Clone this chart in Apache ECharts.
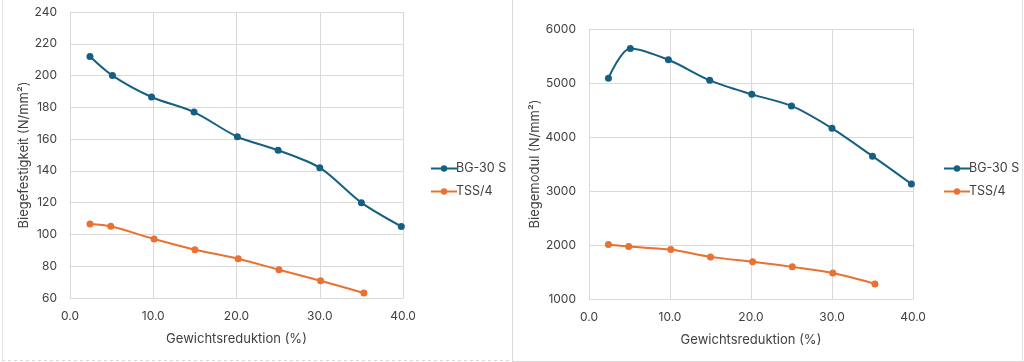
<!DOCTYPE html>
<html>
<head>
<meta charset="utf-8">
<script src="https://cdn.jsdelivr.net/npm/echarts@6/dist/echarts.min.js"></script>
<style>
html,body{margin:0;padding:0;background:#fff;}
#c{width:1024px;height:362px;}
</style>
</head>
<body>
<div id="c"></div>
<script>
// ---- data ----
const seriesNames = ['BG-30 S', 'TSS/4'];
const bgX = [2.4, 5.1, 9.8, 14.9, 20.1, 25.0, 30.0, 35.0, 39.8];
const tssX = [2.4, 4.9, 10.1, 15.0, 20.2, 25.1, 30.1, 35.3];
const festBG = [212, 200, 186.5, 177, 161.5, 153, 142, 120, 105];
const festTSS = [106.6, 105.1, 97.1, 90.4, 84.7, 77.8, 70.9, 63.2];
const modulBG = [5090, 5640, 5430, 5050, 4790, 4575, 4160, 3645, 3130];
const modulTSS = [2010, 1970, 1915, 1780, 1690, 1595, 1480, 1280];
const xTicks = {min: 0, max: 40, interval: 10};
const yTicksLeft = {min: 60, max: 240, interval: 20};
const yTicksRight = {min: 1000, max: 6000, interval: 1000};
const titles = {
  yLeft: 'Biegefestigkeit (N/mm²)',
  yRight: 'Biegemodul (N/mm²)',
  x: 'Gewichtsreduktion (%)'
};

const pair = (xs, ys) => xs.map((x, i) => [x, ys[i]]);
const BLUE = '#156082', ORANGE = '#E97132';
const FONT = 'Inter, "Noto Sans", sans-serif';
const gridLine = {show: true, lineStyle: {color: '#d9d9d9', width: 1}};

function xAxis(gi) {
  return {
    type: 'value', gridIndex: gi, min: xTicks.min, max: xTicks.max, interval: xTicks.interval,
    name: titles.x, nameLocation: 'middle', nameGap: 35,
    nameTextStyle: {color: '#404040', fontSize: 13, fontFamily: FONT},
    axisLine: {show: true, lineStyle: {color: '#d9d9d9'}},
    axisTick: {show: false},
    axisLabel: {color: '#404040', fontSize: 12, fontFamily: FONT, margin: 12,
      formatter: v => v.toFixed(1)},
    splitLine: gridLine
  };
}
function yAxis(gi, t, name, gap) {
  return {
    type: 'value', gridIndex: gi, min: t.min, max: t.max, interval: t.interval,
    name: name, nameLocation: 'middle', nameGap: gap, nameRotate: 90,
    nameTextStyle: {color: '#404040', fontSize: 13, fontFamily: FONT},
    axisLine: {show: true, lineStyle: {color: '#d9d9d9'}},
    axisTick: {show: false},
    axisLabel: {color: '#404040', fontSize: 12, fontFamily: FONT, margin: 13,
      formatter: v => String(v)},
    splitLine: gridLine
  };
}
function line(name, data, color, xi) {
  return {
    name: name, type: 'line', xAxisIndex: xi, yAxisIndex: xi, data: data,
    smooth: 0.3, symbol: 'circle', symbolSize: 7,
    lineStyle: {color: color, width: 2}, itemStyle: {color: color},
    emphasis: {disabled: true}, animation: false
  };
}
function legend(left) {
  return {
    data: seriesNames, orient: 'vertical', left: left, top: 157, itemGap: 10,
    itemWidth: 26, itemHeight: 8,
    textStyle: {color: '#404040', fontSize: 12.5, fontFamily: FONT, padding: [0, 0, 0, -6]},
    selectedMode: false
  };
}

const chart = echarts.init(document.getElementById('c'), null, {renderer: 'canvas'});
chart.setOption({
  backgroundColor: '#fff',
  animation: false,
  grid: [
    {left: 70, right: 621, top: 12, bottom: 64},
    {left: 589, right: 111, top: 29, bottom: 63}
  ],
  xAxis: [xAxis(0), xAxis(1)],
  yAxis: [yAxis(0, yTicksLeft, titles.yLeft, 32), yAxis(1, yTicksRight, titles.yRight, 36)],
  legend: [legend(425), legend(938)],
  series: [
    line(seriesNames[0], pair(bgX, festBG), BLUE, 0),
    line(seriesNames[1], pair(tssX, festTSS), ORANGE, 0),
    line(seriesNames[0], pair(bgX, modulBG), BLUE, 1),
    line(seriesNames[1], pair(tssX, modulTSS), ORANGE, 1)
  ],
  graphic: [
    {type: 'line', shape: {x1: 2.5, y1: 0, x2: 2.5, y2: 360}, style: {stroke: '#e3e3e3', lineWidth: 1}},
    {type: 'line', shape: {x1: 2, y1: 360.5, x2: 511, y2: 360.5}, style: {stroke: '#d9d9d9', lineWidth: 1, lineDash: [3, 3]}},
    {type: 'line', shape: {x1: 512.5, y1: 0, x2: 512.5, y2: 361}, style: {stroke: '#d9d9d9', lineWidth: 1}},
    {type: 'line', shape: {x1: 512, y1: 361.5, x2: 1024, y2: 361.5}, style: {stroke: '#d9d9d9', lineWidth: 1}},
    {type: 'line', shape: {x1: 1022.5, y1: 0, x2: 1022.5, y2: 362}, style: {stroke: '#e3e3e3', lineWidth: 1}}
  ]
});
</script>
</body>
</html>
